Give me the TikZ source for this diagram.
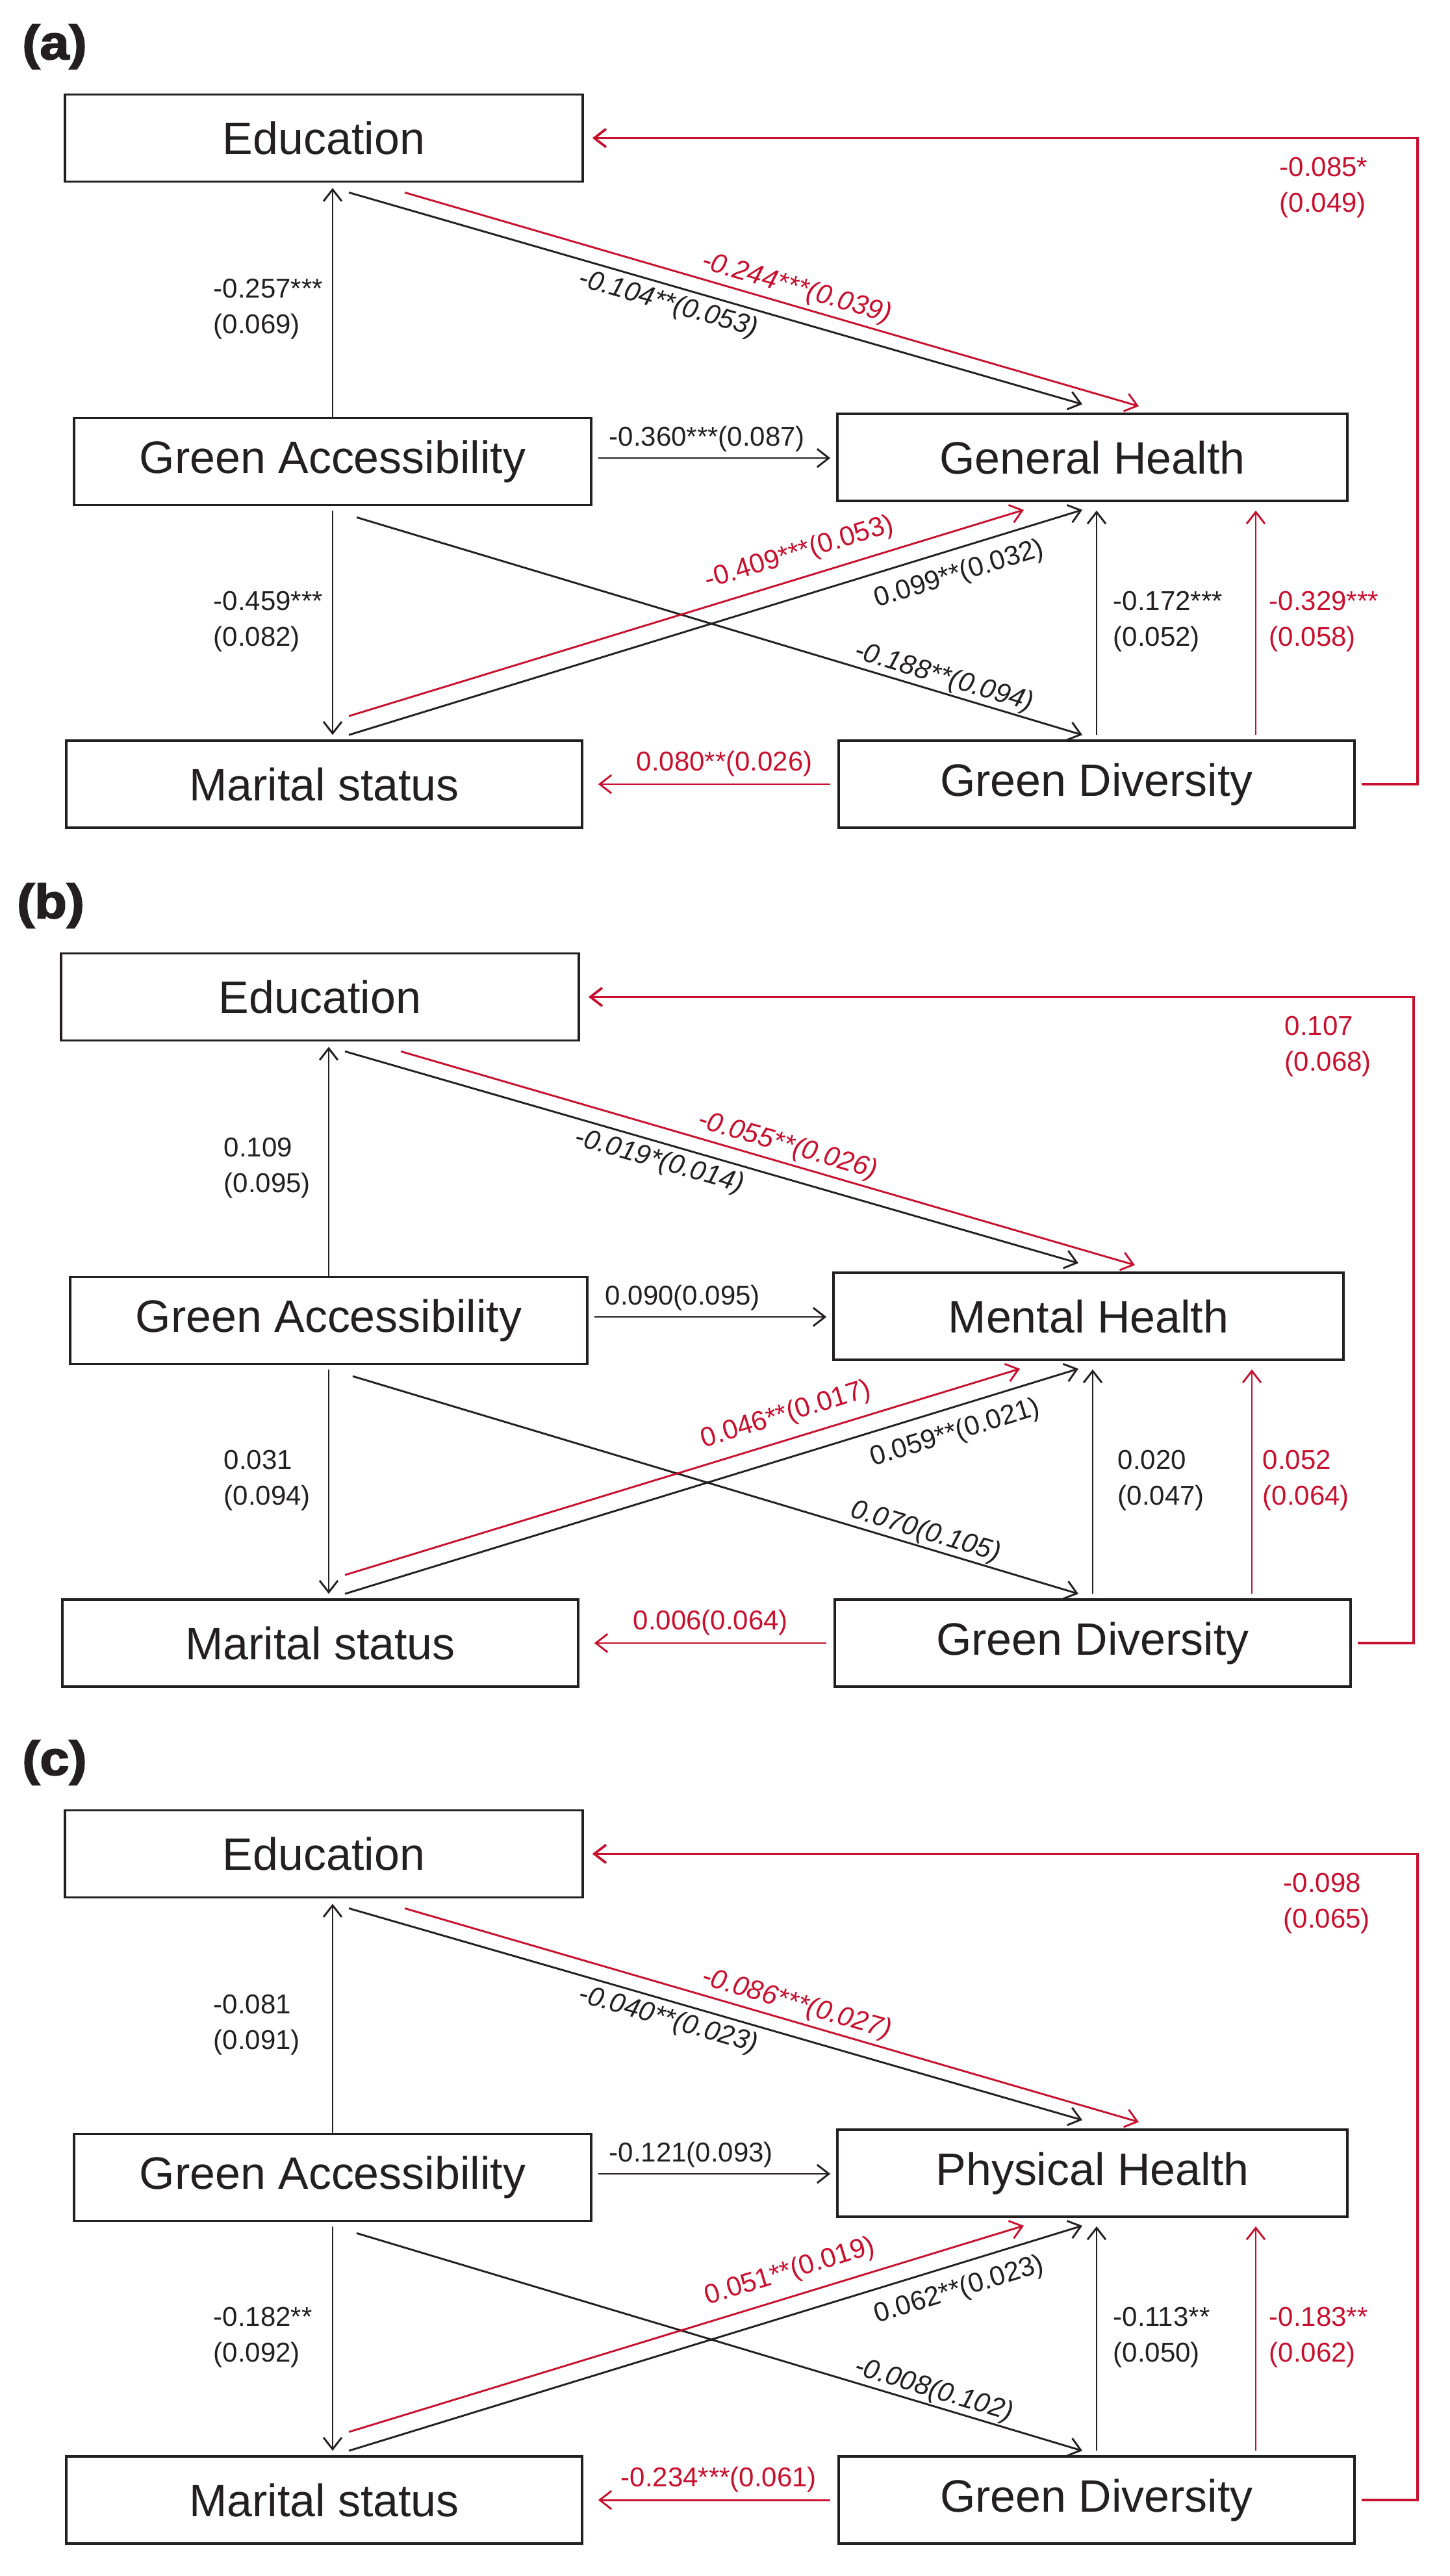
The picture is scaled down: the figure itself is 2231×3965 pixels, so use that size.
\documentclass[tikz,border=0pt]{standalone}
\usepackage{fontspec}
\setmainfont{Liberation Sans}
\newfontfamily\panelfont[BoldFeatures={FakeBold=2.5}]{Liberation Sans}
\usetikzlibrary{arrows.meta,calc}
\definecolor{ink}{RGB}{35,31,32}
\definecolor{pred}{RGB}{200,16,46}
\newcommand{\lblfont}{\fontsize{11.95}{15.6}\selectfont}
\newcommand{\boxfont}{\fontsize{19.9}{24}\selectfont}
\tikzset{
  x=0.1mm, y=-0.1mm,
  vbox/.style={draw=ink, line width=0.36mm, minimum height=13.4mm, inner sep=0pt, font=\boxfont, text=ink},
  conn/.style={line width=0.29mm, -{Straight Barb[length=1.8mm,width=2.8mm]}},
  blk/.style={conn, color=ink},
  rd/.style={conn, color=pred},
  plab/.style={font=\lblfont, inner sep=0pt, align=left},
  upl/.style={sloped, anchor=south west, inner xsep=0pt, inner ysep=#1, font=\lblfont},
  dnl/.style={sloped, anchor=north west, inner xsep=0pt, inner ysep=#1, font=\lblfont},
  panellab/.style={font=\fontsize{21}{24}\selectfont\panelfont\bfseries, text=ink, inner sep=0pt, xscale=1.1}
}
\newcommand{\drawpanel}[3]{%
\begin{scope}[shift={#1}]
  \node[panellab] (lab) at (84,72) {(#2)};
  \node[vbox, minimum width=79.7mm] (edu) at (498.5,212.5) {Education};
  \node[vbox, minimum width=79.6mm] (ga) at (512,710.5) {Green Accessibility};
  \node[vbox, minimum width=79.4mm] (mar) at (499,1207) {Marital status};
  \node[vbox, minimum width=78.5mm] (hl) at (1681.5,704) {#3};
  \node[vbox, minimum width=79.4mm] (gd) at (1688,1207) {Green Diversity};
  % Green Accessibility -> Education / Marital status
  \draw[blk] (ga.north) -- ($(ga.north |- edu.south)+(0,8)$);
  \draw[blk] ($(ga.south)+(0,7)$) -- ($(ga.south |- mar.north)+(0,-7)$);
  \node[plab, text=ink, anchor=west] (lea) at (\XV,476) {\LEA};
  \node[plab, text=ink, anchor=west] (lam) at (\XV,957) {\LAM};
  % Education -> health
  \draw[blk] ($(edu.south)+(38.5,15)$) -- node[dnl=0.8mm, pos=0.32]{\itshape\LEHb} ($(hl.north)+(-15.5,-13)$);
  \draw[rd] ($(edu.south)+(124.5,15)$) -- node[upl=0.55mm, pos=0.398]{\itshape\LEHr} ($(hl.north)+(71.5,-10)$);
  % Green Accessibility -> health
  \draw[blk] ($(ga.east)+(9,-5.5)$) -- ($(hl.west)+(-9,1)$);
  \node[plab, text=ink, anchor=west] (lgh) at (\XGH,676) {\LGH};
  % Green Accessibility -> Green Diversity
  \draw[blk] ($(ga.south)+(37,17)$) -- node[upl=0.2mm, pos=\PGD]{\itshape\LGD} ($(gd.north)+(-22,-7)$);
  % Marital status -> health
  \draw[rd] ($(mar.north)+(38,-36)$) -- node[upl=1.6mm, pos=0.538]{\LMHr} ($(hl.south)+(-105.5,12)$);
  \draw[blk] ($(mar.north)+(38,-7)$) -- node[dnl=1.85mm, pos=0.706]{\LMHb} ($(hl.south)+(-15.5,12)$);
  % Green Diversity -> health
  \draw[blk] ($(gd.north)+(0,-7)$) -- ($(gd.north |- hl.south)+(0,13)$);
  \draw[rd] ($(gd.north)+(245,-7)$) -- ($(gd.north |- hl.south)+(245,13)$);
  \node[plab, text=ink, anchor=west] (ldh) at (\XDH,957) {\LDH};
  \node[plab, text=pred, anchor=west] (ldr) at (\XDR,957) {\LDR};
  % Green Diversity -> Marital status
  \draw[rd] ($(gd.west)+(-11,0)$) -- ($(mar.east)+(23,0)$);
  \node[plab, text=pred, anchor=west] (ldm) at (\XDM,1176) {\LDM};
  % Green Diversity -> Education
  \draw[rd, line width=0.38mm] ($(gd.east)+(9,0)$) -- ++(86,0) |- ($(edu.east)+(13,0)$);
  \node[plab, text=pred, anchor=west] (lde) at (\XDE,289) {\LDE};
\end{scope}}
\begin{document}
\begin{tikzpicture}
\useasboundingbox (0,0) rectangle (2231,3965);
% ---------- (a)
\def\LEA{-0.257***\\(0.069)}\def\LAM{-0.459***\\(0.082)}
\def\LEHb{-0.104**(0.053)}\def\LEHr{-0.244***(0.039)}
\def\LGH{-0.360***(0.087)}\def\LGD{-0.188**(0.094)}
\def\LMHr{-0.409***(0.053)}\def\LMHb{0.099**(0.032)}
\def\LDH{-0.172***\\(0.052)}\def\LDR{-0.329***\\(0.058)}
\def\LDM{0.080**(0.026)}\def\LDE{-0.085*\\(0.049)}
\def\XV{328}\def\XGH{937}\def\XDH{1713}\def\XDR{1953}\def\XDM{979}\def\XDE{1969}\def\PGD{0.68}
\drawpanel{(0,0)}{a}{General Health}
% ---------- (b)
\def\LEA{0.109\\(0.095)}\def\LAM{0.031\\(0.094)}
\def\LEHb{-0.019*(0.014)}\def\LEHr{-0.055**(0.026)}
\def\LGH{0.090(0.095)}\def\LGD{0.070(0.105)}
\def\LMHr{0.046**(0.017)}\def\LMHb{0.059**(0.021)}
\def\LDH{0.020\\(0.047)}\def\LDR{0.052\\(0.064)}
\def\LDM{0.006(0.064)}\def\LDE{0.107\\(0.068)}
\def\XV{350}\def\XGH{937}\def\XDH{1726}\def\XDR{1949}\def\XDM{980}\def\XDE{1983}\def\PGD{0.68}
\drawpanel{(-6,1322)}{b}{Mental Health}
% ---------- (c)
\def\LEA{-0.081\\(0.091)}\def\LAM{-0.182**\\(0.092)}
\def\LEHb{-0.040**(0.023)}\def\LEHr{-0.086***(0.027)}
\def\LGH{-0.121(0.093)}\def\LGD{-0.008(0.102)}
\def\LMHr{0.051**(0.019)}\def\LMHb{0.062**(0.023)}
\def\LDH{-0.113**\\(0.050)}\def\LDR{-0.183**\\(0.062)}
\def\LDM{-0.234***(0.061)}\def\LDE{-0.098\\(0.065)}
\def\XV{328}\def\XGH{937}\def\XDH{1713}\def\XDR{1953}\def\XDM{955}\def\XDE{1975}\def\PGD{0.68}
\drawpanel{(0,2641)}{c}{Physical Health}
\end{tikzpicture}
\end{document}
